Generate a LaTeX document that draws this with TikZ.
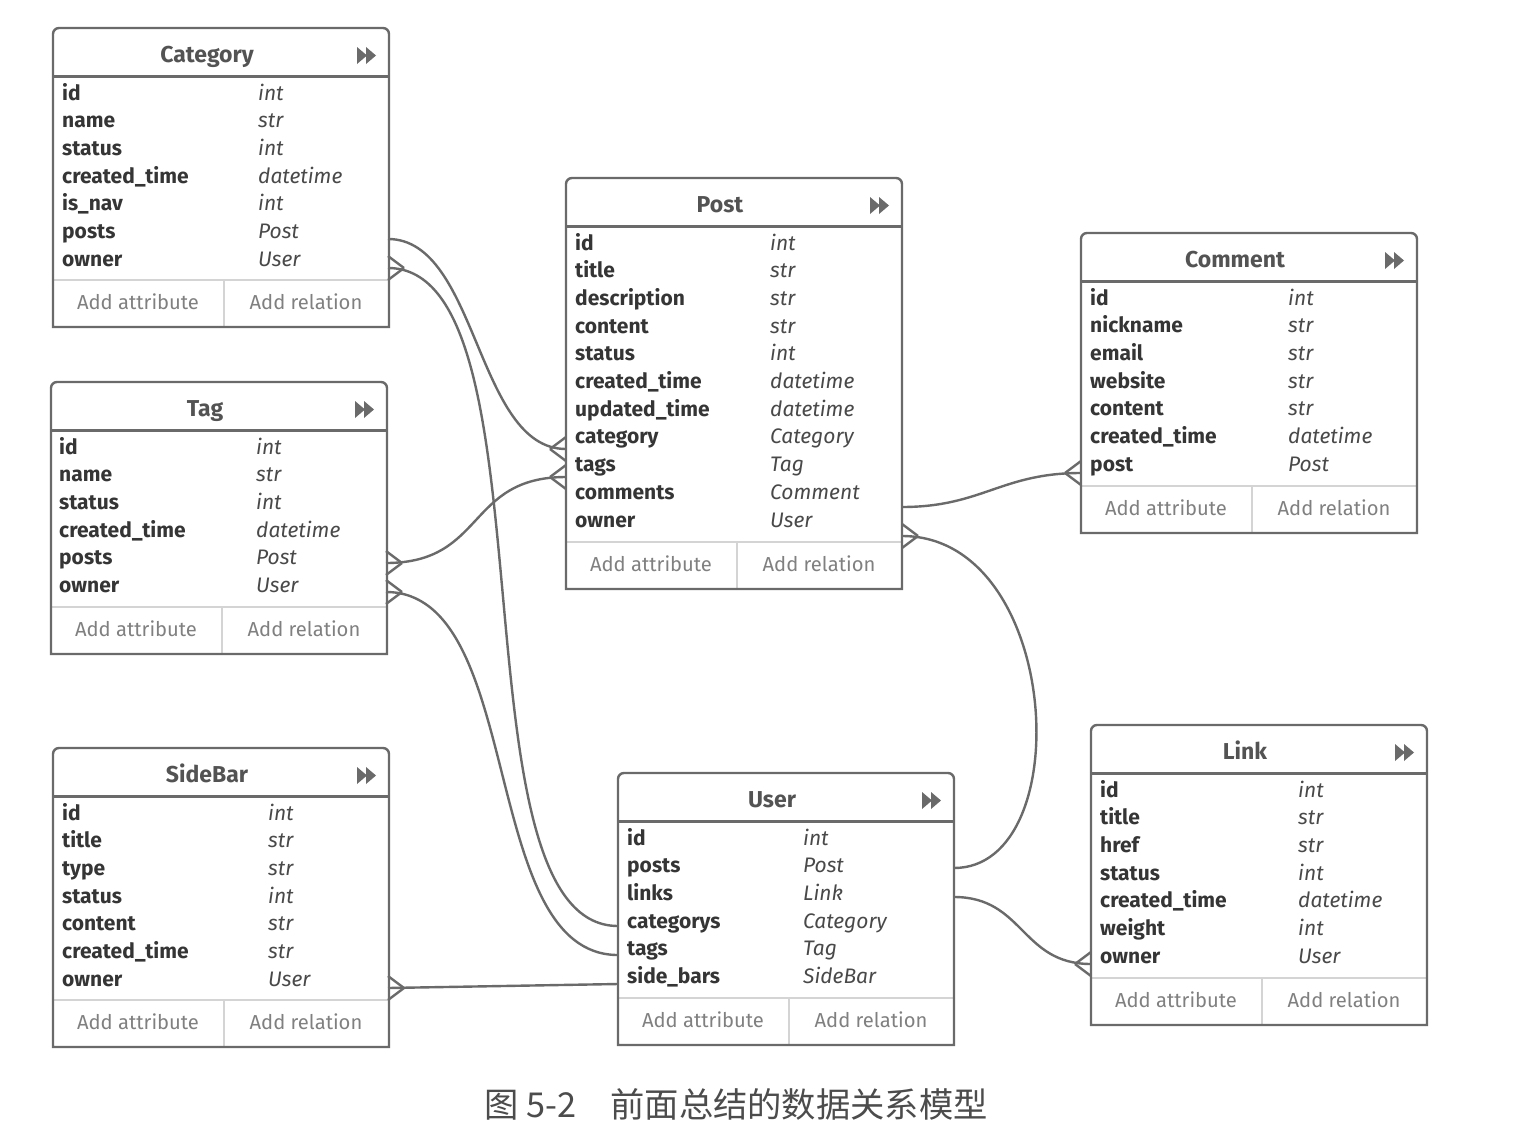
\documentclass[tikz,border=0pt]{standalone}
\usepackage{fontspec}
\setmainfont{Fira Sans}
\newfontfamily\cjk{Noto Sans CJK SC}

\definecolor{edge}{HTML}{6A6A6A}
\definecolor{sepgray}{HTML}{D4D4D4}
\definecolor{ink}{HTML}{353535}
\definecolor{addgray}{HTML}{808080}

\tikzset{
  tbl/.style={inner sep=0, outer sep=0, minimum width=336, anchor=north west},
  box/.style={draw=edge, line width=2.4},
  headline/.style={draw=edge, line width=3},
  sep/.style={draw=sepgray, line width=1.4},
  icon/.style={fill=edge},
  title/.style={anchor=base, inner sep=0, text=ink!85, font=\fontsize{23}{27}\selectfont\bfseries},
  attr/.style={anchor=base west, inner sep=0, text=ink, font=\fontsize{21}{25}\selectfont\bfseries},
  typ/.style={anchor=base west, inner sep=0, text=ink!90, font=\fontsize{21}{25}\selectfont\itshape},
  add/.style={anchor=base, inner sep=0, text=addgray, font=\fontsize{20.2}{24}\selectfont},
  conn/.style={draw=edge, line width=2.4},
}

\begin{document}
\begin{tikzpicture}[x=1pt, y=1pt]
\fill[white] (0,0) rectangle (1534,-1146);
\useasboundingbox (0,0) rectangle (1534,-1146);

% tables
\foreach \t/\n/\x/\y/\h in {category/Category/53/28/299, tag/Tag/51/382/272,
    sidebar/SideBar/53/748/299, post/Post/566/178/411, comment/Comment/1081/233/300,
    user/User/618/773/272, link/Link/1091/725/300}{
  \node[tbl, minimum height=\h] (\t) at (\x,-\y) {};
  \draw[sep] ([yshift=47]\t.south west) -- ([yshift=47]\t.south east);
  \draw[sep] ([xshift=171]\t.south west) -- ++(0,47);
  \draw[headline] ([yshift=-48]\t.north west) -- ([yshift=-48]\t.north east);
  \draw[box] (\t.south west) -- ([yshift=-6]\t.north west) arc[start angle=180, end angle=90, radius=6]
    -- ([xshift=-6]\t.north east) arc[start angle=90, end angle=0, radius=6] -- (\t.south east) -- cycle;
  \node[title] (\t-title) at ([xshift=-14,yshift=-34]\t.north) {\n};
  \fill[icon] ([xshift=-32,yshift=-19]\t.north east) -- ++(10,-8.5) -- ++(-10,-8.5) -- cycle
    ([xshift=-23,yshift=-19]\t.north east) -- ++(10,-8.5) -- ++(-10,-8.5) -- cycle;
  \node[add] (\t-attr) at ([xshift=85,yshift=18]\t.south west) {Add attribute};
  \node[add] (\t-rel) at ([xshift=253,yshift=18]\t.south west) {Add relation};
}

% Category
\node[attr] (category1) at (62,-100) {id};            \node[typ] (categoryT1) at (258,-100) {int};
\node[attr] (category2) at (62,-127.7) {name};        \node[typ] (categoryT2) at (258,-127.7) {str};
\node[attr] (category3) at (62,-155.4) {status};      \node[typ] (categoryT3) at (258,-155.4) {int};
\node[attr] (category4) at (62,-183.1) {created\_time}; \node[typ] (categoryT4) at (258,-183.1) {datetime};
\node[attr] (category5) at (62,-210.8) {is\_nav};     \node[typ] (categoryT5) at (258,-210.8) {int};
\node[attr] (category6) at (62,-238.5) {posts};       \node[typ] (categoryT6) at (258,-238.5) {Post};
\node[attr] (category7) at (62,-266.2) {owner};       \node[typ] (categoryT7) at (258,-266.2) {User};

% Tag
\node[attr] (tag1) at (59,-454) {id};                 \node[typ] (tagT1) at (256,-454) {int};
\node[attr] (tag2) at (59,-481.7) {name};             \node[typ] (tagT2) at (256,-481.7) {str};
\node[attr] (tag3) at (59,-509.4) {status};           \node[typ] (tagT3) at (256,-509.4) {int};
\node[attr] (tag4) at (59,-537.1) {created\_time};    \node[typ] (tagT4) at (256,-537.1) {datetime};
\node[attr] (tag5) at (59,-564.8) {posts};            \node[typ] (tagT5) at (256,-564.8) {Post};
\node[attr] (tag6) at (59,-592.5) {owner};            \node[typ] (tagT6) at (256,-592.5) {User};

% SideBar
\node[attr] (sidebar1) at (62,-820) {id};             \node[typ] (sidebarT1) at (268,-820) {int};
\node[attr] (sidebar2) at (62,-847.7) {title};        \node[typ] (sidebarT2) at (268,-847.7) {str};
\node[attr] (sidebar3) at (62,-875.4) {type};         \node[typ] (sidebarT3) at (268,-875.4) {str};
\node[attr] (sidebar4) at (62,-903.1) {status};       \node[typ] (sidebarT4) at (268,-903.1) {int};
\node[attr] (sidebar5) at (62,-930.8) {content};      \node[typ] (sidebarT5) at (268,-930.8) {str};
\node[attr] (sidebar6) at (62,-958.5) {created\_time}; \node[typ] (sidebarT6) at (268,-958.5) {str};
\node[attr] (sidebar7) at (62,-986.2) {owner};        \node[typ] (sidebarT7) at (268,-986.2) {User};

% Post
\node[attr] (post1) at (575,-250) {id};               \node[typ] (postT1) at (770,-250) {int};
\node[attr] (post2) at (575,-277.7) {title};          \node[typ] (postT2) at (770,-277.7) {str};
\node[attr] (post3) at (575,-305.4) {description};    \node[typ] (postT3) at (770,-305.4) {str};
\node[attr] (post4) at (575,-333.1) {content};        \node[typ] (postT4) at (770,-333.1) {str};
\node[attr] (post5) at (575,-360.8) {status};         \node[typ] (postT5) at (770,-360.8) {int};
\node[attr] (post6) at (575,-388.5) {created\_time};  \node[typ] (postT6) at (770,-388.5) {datetime};
\node[attr] (post7) at (575,-416.2) {updated\_time};  \node[typ] (postT7) at (770,-416.2) {datetime};
\node[attr] (post8) at (575,-443.9) {category};       \node[typ] (postT8) at (770,-443.9) {Category};
\node[attr] (post9) at (575,-471.6) {tags};           \node[typ] (postT9) at (770,-471.6) {Tag};
\node[attr] (post10) at (575,-499.3) {comments};      \node[typ] (postT10) at (770,-499.3) {Comment};
\node[attr] (post11) at (575,-527) {owner};           \node[typ] (postT11) at (770,-527) {User};

% Comment
\node[attr] (comment1) at (1090,-305) {id};           \node[typ] (commentT1) at (1288,-305) {int};
\node[attr] (comment2) at (1090,-332.7) {nickname};   \node[typ] (commentT2) at (1288,-332.7) {str};
\node[attr] (comment3) at (1090,-360.4) {email};      \node[typ] (commentT3) at (1288,-360.4) {str};
\node[attr] (comment4) at (1090,-388.1) {website};    \node[typ] (commentT4) at (1288,-388.1) {str};
\node[attr] (comment5) at (1090,-415.8) {content};    \node[typ] (commentT5) at (1288,-415.8) {str};
\node[attr] (comment6) at (1090,-443.5) {created\_time}; \node[typ] (commentT6) at (1288,-443.5) {datetime};
\node[attr] (comment7) at (1090,-471.2) {post};       \node[typ] (commentT7) at (1288,-471.2) {Post};

% User
\node[attr] (user1) at (627,-845) {id};               \node[typ] (userT1) at (803,-845) {int};
\node[attr] (user2) at (627,-872.7) {posts};          \node[typ] (userT2) at (803,-872.7) {Post};
\node[attr] (user3) at (627,-900.4) {links};          \node[typ] (userT3) at (803,-900.4) {Link};
\node[attr] (user4) at (627,-928.1) {categorys};      \node[typ] (userT4) at (803,-928.1) {Category};
\node[attr] (user5) at (627,-955.8) {tags};           \node[typ] (userT5) at (803,-955.8) {Tag};
\node[attr] (user6) at (627,-983.5) {side\_bars};     \node[typ] (userT6) at (803,-983.5) {SideBar};

% Link
\node[attr] (link1) at (1100,-797) {id};              \node[typ] (linkT1) at (1298,-797) {int};
\node[attr] (link2) at (1100,-824.7) {title};         \node[typ] (linkT2) at (1298,-824.7) {str};
\node[attr] (link3) at (1100,-852.4) {href};          \node[typ] (linkT3) at (1298,-852.4) {str};
\node[attr] (link4) at (1100,-880.1) {status};        \node[typ] (linkT4) at (1298,-880.1) {int};
\node[attr] (link5) at (1100,-907.8) {created\_time}; \node[typ] (linkT5) at (1298,-907.8) {datetime};
\node[attr] (link6) at (1100,-935.5) {weight};        \node[typ] (linkT6) at (1298,-935.5) {int};
\node[attr] (link7) at (1100,-963.2) {owner};         \node[typ] (linkT7) at (1298,-963.2) {User};

% relation ends
\coordinate (c1a) at (388,-239);  \coordinate (c1b) at (566,-449);
\coordinate (c2a) at (388,-268);  \coordinate (c2b) at (618,-926);
\coordinate (c3a) at (386,-563);  \coordinate (c3b) at (566,-477);
\coordinate (c4a) at (386,-592);  \coordinate (c4b) at (618,-955);
\coordinate (c5a) at (902,-507);  \coordinate (c5b) at (1081,-473);
\coordinate (c6a) at (902,-536);  \coordinate (c6b) at (954,-868);
\coordinate (c7a) at (954,-897);  \coordinate (c7b) at (1091,-964);
\coordinate (c8a) at (618,-984);  \coordinate (c8b) at (388,-988);

\draw[conn] (c1a) .. controls +(90,0) and +(-90,0) .. (c1b);
\draw[conn] (c2a) .. controls +(170,0) and +(-170,0) .. (c2b);
\draw[conn] (c3a) .. controls +(100,0) and +(-100,0) .. (c3b);
\draw[conn] (c4a) .. controls +(140,0) and +(-140,0) .. (c4b);
\draw[conn] (c5a) .. controls +(80,0) and +(-80,0) .. (c5b);
\draw[conn] (c6a) .. controls +(160,0) and +(125,0) .. (c6b);
\draw[conn] (c7a) .. controls +(70,0) and +(-70,0) .. (c7b);
\draw[conn] (c8a) -- (c8b);

% crow's feet
\draw[conn] ([xshift=-16]c1b) -- ([yshift=12]c1b) ([xshift=-16]c1b) -- ([yshift=-12]c1b);
\draw[conn] ([xshift=16]c2a) -- ([yshift=12]c2a) ([xshift=16]c2a) -- ([yshift=-12]c2a);
\draw[conn] ([xshift=16]c3a) -- ([yshift=12]c3a) ([xshift=16]c3a) -- ([yshift=-12]c3a);
\draw[conn] ([xshift=-16]c3b) -- ([yshift=12]c3b) ([xshift=-16]c3b) -- ([yshift=-12]c3b);
\draw[conn] ([xshift=16]c4a) -- ([yshift=12]c4a) ([xshift=16]c4a) -- ([yshift=-12]c4a);
\draw[conn] ([xshift=-16]c5b) -- ([yshift=12]c5b) ([xshift=-16]c5b) -- ([yshift=-12]c5b);
\draw[conn] ([xshift=16]c6a) -- ([yshift=12]c6a) ([xshift=16]c6a) -- ([yshift=-12]c6a);
\draw[conn] ([xshift=-16]c7b) -- ([yshift=12]c7b) ([xshift=-16]c7b) -- ([yshift=-12]c7b);
\draw[conn] ([xshift=16]c8b) -- ([yshift=12]c8b) ([xshift=16]c8b) -- ([yshift=-12]c8b);

% caption
\node[anchor=base west, inner sep=0, text=black!70, font=\fontsize{34.3}{40}\selectfont\cjk] (caption) at (484,-1117) {图 5-2\hspace{1em}前面总结的数据关系模型};
\end{tikzpicture}
\end{document}
